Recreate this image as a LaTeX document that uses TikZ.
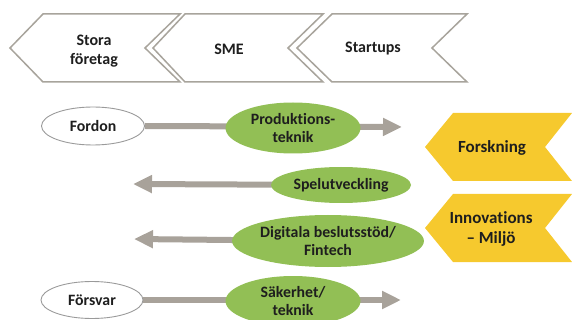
\documentclass[tikz,border=0pt]{standalone}
\usepackage{fontspec}
\setmainfont{Carlito}[Ligatures={NoCommon}]
\usetikzlibrary{shapes.geometric,arrows.meta,backgrounds}
\definecolor{chevgray}{HTML}{A8A49C}
\definecolor{arrgray}{HTML}{A8A29A}
\definecolor{leafgreen}{HTML}{92BF55}
\definecolor{sunyellow}{HTML}{F6C92E}
\definecolor{inkdark}{HTML}{1E1E1E}
\definecolor{ovalgray}{HTML}{9A9A9A}
\begin{document}
\begin{tikzpicture}[x=1pt,y=-1pt,
  chevline/.style={draw=chevgray,line width=1.5pt,fill=white,line join=miter},
  yelchev/.style={fill=sunyellow,draw=none},
  lbl/.style={text=inkdark,font=\fontsize{16}{19}\selectfont\bfseries,align=center,inner sep=0pt},
  ylbl/.style={text=inkdark,font=\fontsize{17}{20.5}\selectfont\bfseries,align=center,inner sep=0pt},
  greenoval/.style={ellipse,fill=leafgreen,draw=none,inner sep=0pt,text=inkdark,
    font=\fontsize{15.8}{18.5}\selectfont\bfseries,align=center},
  whiteoval/.style={ellipse,fill=white,draw=ovalgray,line width=0.9pt,inner sep=0pt,text=inkdark,
    font=\fontsize{15.8}{18.5}\selectfont\bfseries,align=center},
  flowarrow/.style={draw=arrgray,line width=6pt,-{Triangle[length=19pt,width=17pt]}}
]
\useasboundingbox (0,0) rectangle (572,320);

% top chevrons
\draw[chevline] (10,48) -- (43,14) -- (180,14) -- (145,48) -- (180,82) -- (43,82) -- cycle;
\draw[chevline] (153,48) -- (185,14) -- (323,14) -- (288,48) -- (323,82) -- (185,82) -- cycle;
\draw[chevline] (297,48) -- (332,14) -- (467,14) -- (432,48) -- (467,82) -- (332,82) -- cycle;
\node[lbl] (stora) at (94,51) {Stora\\företag};
\node[lbl] (sme) at (229,49) {SME};
\node[lbl] (startups) at (373,49) {Startups};

% yellow chevrons
\fill[yelchev] (425,147) -- (453,113) -- (572,113) -- (545,147) -- (572,181) -- (453,181) -- cycle;
\fill[yelchev] (425,228) -- (453,194) -- (572,194) -- (545,228) -- (572,262) -- (453,262) -- cycle;
\node[ylbl] (forsk) at (492,148) {Forskning};
\node[ylbl] (innov) at (491,229) {Innovations\\– Miljö};

% ovals
\node[whiteoval,minimum width=103pt,minimum height=38pt] (fordon) at (93,126) {Fordon};
\node[whiteoval,minimum width=102pt,minimum height=37pt] (forsvar) at (92,300) {Försvar};
\node[greenoval,minimum width=135pt,minimum height=51pt] (prod) at (293,128) {Produktions-\\teknik};
\node[greenoval,minimum width=140pt,minimum height=36pt] (spel) at (341,185) {Spelutveckling};
\node[greenoval,minimum width=146pt,minimum height=52pt] (digi) at (328,241) {Digitala beslutsstöd/\\Fintech};
\node[greenoval,minimum width=135pt,minimum height=50pt] (saker) at (293,301) {Säkerhet/\\teknik};

\coordinate (tipA) at (402,127);
\coordinate (tipB) at (133,184);
\coordinate (tipC) at (134,239);
\coordinate (tipD) at (401,300);

\begin{scope}[on background layer]
\draw[flowarrow] (fordon.east) -- (tipA);
\draw[flowarrow] (spel.center) -- (tipB);
\draw[flowarrow] (digi.center) -- (tipC);
\draw[flowarrow] (forsvar.east) -- (tipD);
\end{scope}
\end{tikzpicture}
\end{document}
